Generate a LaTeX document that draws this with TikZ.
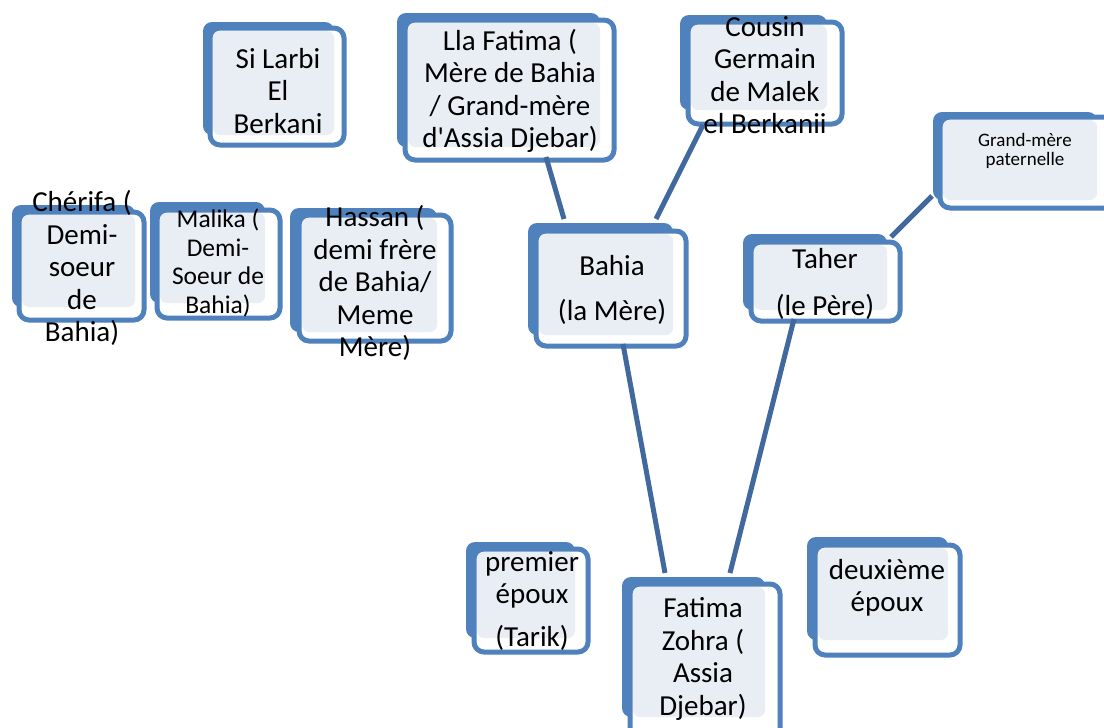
\documentclass[tikz,border=0pt]{standalone}
\usepackage{fontspec}
\setmainfont{Carlito}
\usetikzlibrary{calc}
\definecolor{boxblue}{HTML}{4F81BD}
\definecolor{linkblue}{HTML}{41699D}
\definecolor{lightfill}{HTML}{E9EEF5}
\tikzset{
  solidback/.style={fill=boxblue, rounded corners=9pt},
  frontframe/.style={draw=boxblue, line width=5pt, fill=white, rounded corners=10pt},
  lightpanel/.style={fill=lightfill, rounded corners=7pt},
  boxtext/.style={align=center, inner sep=0pt, text=black, font=\fontsize{29}{32.5}\selectfont},
  midtext/.style={boxtext, font=\fontsize{25.5}{28.5}\selectfont},
  smalltext/.style={boxtext, font=\fontsize{19}{19.5}\selectfont},
  link/.style={draw=linkblue, line width=5pt},
}
\newcommand\famcard[5]{%
  \coordinate (#1-a1) at (#2); \coordinate (#1-a2) at (#3);
  \coordinate (#1-b1) at (#4); \coordinate (#1-b2) at (#5);
  \fill[solidback] (#1-a1) rectangle (#1-a2);
  \draw[frontframe] (#1-b1) rectangle (#1-b2);
  \fill[lightpanel] ($(#1-b1)+(3,3)$) rectangle (#1-a2);
}
\begin{document}
\begin{tikzpicture}[x=1pt,y=-1pt]
\useasboundingbox (0,0) rectangle (1104,728);
\clip (0,0) rectangle (1104,728);
\fill[white] (0,0) rectangle (1104,728);

% cards
\famcard{larbi}{203,22}{334,135}{210,28}{344,145}
\famcard{lla}{397,13}{600,147}{405,20}{614,160}
\famcard{cousin}{680,15}{827,110}{688,22}{842,124}
\famcard{gmp}{933,112}{1097,200}{940,117}{1114,208}
\famcard{cherifa}{12,205}{135,307}{19,212}{144,320}
\famcard{malika}{150,202}{265,303}{157,210}{280,318}
\famcard{hassan}{290,208}{437,332}{299,215}{451,341}
\famcard{bahiac}{528,223}{673,335}{536,231}{686,346}
\famcard{taherc}{743,234}{887,310}{751,242}{900,321}
\famcard{premier}{466,542}{575,638}{474,549}{588,652}
\famcard{fatimac}{622,577}{765,717}{630,584}{780,740}
\famcard{deux}{807,537}{948,640}{815,545}{960,655}

% texts
\node[boxtext] (tlarbi) at (278,91) {Si Larbi\\El\\Berkani};
\node[boxtext] (tlla) at (510,91) {Lla Fatima (\\Mère de Bahia\\/ Grand-mère\\d\textquotesingle Assia Djebar)};
\node[boxtext] (tcousin) at (765,75) {Cousin\\Germain\\de Malek\\el Berkanii};
\node[smalltext] (tgmp) at (1025,151) {Grand-mère\\paternelle};
\node[boxtext] (tcherifa) at (82,268) {Chérifa (\\Demi-\\soeur\\de\\Bahia)};
\node[midtext] (tmalika) at (218,263) {Malika (\\Demi-\\Soeur de\\Bahia)};
\node[boxtext] (thassan) at (375,283) {Hassan (\\demi frère\\de Bahia/\\Meme\\Mère)};
\node[boxtext] (tbahia) at (612,290) {Bahia\\[12pt](la Mère)};
\node[boxtext] (ttaher) at (825,284) {Taher\\[14pt](le Père)};
\node[boxtext] (tpremier) at (532,601) {premier\\époux\\[10pt](Tarik)};
\node[boxtext] (tfatima) at (703,659) {Fatima\\Zohra (\\Assia\\Djebar)};
\node[boxtext] (tdeux) at (887,588) {deuxième\\époux};

% connectors
\coordinate (l1s) at (546,157); \coordinate (l1e) at (564,219);
\coordinate (l2s) at (703,125); \coordinate (l2e) at (656,219);
\coordinate (l3s) at (932,196); \coordinate (l3e) at (891,237);
\coordinate (l4s) at (623,344); \coordinate (l4e) at (665,573);
\coordinate (l5s) at (794,319); \coordinate (l5e) at (730,573);
\draw[link] (l1s) -- (l1e);
\draw[link] (l2s) -- (l2e);
\draw[link] (l3s) -- (l3e);
\draw[link] (l4s) -- (l4e);
\draw[link] (l5s) -- (l5e);
\end{tikzpicture}
\end{document}
